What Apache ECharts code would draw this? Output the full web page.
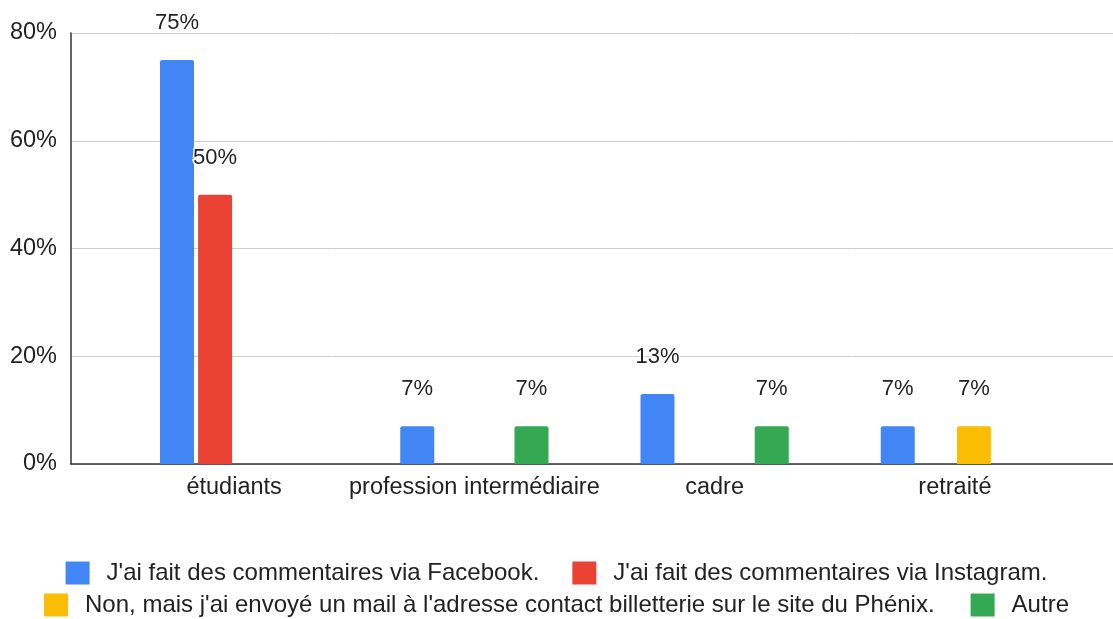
<!DOCTYPE html>
<html>
<head>
<meta charset="utf-8">
<script src="https://cdn.jsdelivr.net/npm/echarts@6/dist/echarts.min.js"></script>
<style>
  html, body { margin: 0; padding: 0; background: #fff; }
  #chart { width: 1113px; height: 619px; }
</style>
</head>
<body>
<div id="chart"></div>
<script>
// Categories (socio-professional groups)
const categories = ['étudiants', 'profession intermédiaire', 'cadre', 'retraité'];

// Series names
const seriesNames = [
  "J'ai fait des commentaires via Facebook.",
  "J'ai fait des commentaires via Instagram.",
  "Non, mais j'ai envoyé un mail à l'adresse contact billetterie sur le site du Phénix.",
  'Autre'
];

// Values in percent (null = no answer in that group)
const facebook  = [75, 7, 13, 7];
const instagram = [50, null, null, null];
const mail      = [null, null, null, 7];
const autre     = [null, 7, 7, null];

// Y axis ticks
const yTicks = [0, 20, 40, 60, 80];

const colors = ['#4285F4', '#EA4335', '#FBBC04', '#34A853'];
const seriesData = [facebook, instagram, mail, autre];

const textColor = '#222';
const font = 'Liberation Sans, Arial, Helvetica, sans-serif';

const chart = echarts.init(document.getElementById('chart'), null, { renderer: 'canvas' });

const series = seriesNames.map((name, i) => ({
  name: name,
  type: 'bar',
  xAxisIndex: 1,
  yAxisIndex: 1,
  data: seriesData[i],
  barWidth: 34,
  barGap: '12%',
  itemStyle: { color: colors[i], borderRadius: [2, 2, 0, 0] },
  label: {
    show: true,
    position: 'top',
    distance: 26,
    formatter: p => (p.value == null ? '' : p.value + '%'),
    color: textColor,
    fontFamily: font,
    fontSize: 22,
    textBorderColor: '#fff',
    textBorderWidth: 3
  }
}));

const legendText = { color: textColor, fontSize: 24, fontFamily: font, padding: [0, 0, 0, 12] };

chart.setOption({
  animation: false,
  color: colors,
  textStyle: { fontFamily: font },
  grid: [
    { left: 71, right: 0, top: 33, bottom: 155 },
    { left: 114, right: 38, top: 33, bottom: 155 }
  ],
  xAxis: [
    {
      gridIndex: 0,
      type: 'value',
      min: 0,
      max: 1,
      axisLine: { show: true, onZero: false, lineStyle: { color: '#333', width: 1.5 } },
      axisTick: { show: false },
      axisLabel: { show: false },
      splitLine: { show: false }
    },
    {
      gridIndex: 1,
      type: 'category',
      data: categories,
      axisLine: { show: false },
      axisTick: { show: false },
      axisLabel: { interval: 0, color: textColor, fontSize: 23.5, margin: 12, fontFamily: font }
    }
  ],
  yAxis: [
    {
      gridIndex: 0,
      type: 'value',
      min: yTicks[0],
      max: yTicks[yTicks.length - 1],
      interval: 20,
      axisLine: { show: true, lineStyle: { color: '#333', width: 1.5 } },
      axisTick: { show: false },
      axisLabel: { color: textColor, fontSize: 23.5, margin: 14, formatter: '{value}%', fontFamily: font },
      splitLine: { show: true, lineStyle: { color: '#ccc', width: 1 } }
    },
    {
      gridIndex: 1,
      type: 'value',
      min: yTicks[0],
      max: yTicks[yTicks.length - 1],
      show: false
    }
  ],
  legend: [
    {
      data: [seriesNames[0], seriesNames[1]],
      top: 561,
      left: 'center',
      padding: 0,
      itemWidth: 24,
      itemHeight: 23,
      itemGap: 33,
      icon: 'rect',
      textStyle: legendText
    },
    {
      data: [seriesNames[2], seriesNames[3]],
      top: 593,
      left: 'center',
      padding: 0,
      itemWidth: 24,
      itemHeight: 23,
      itemGap: 36,
      icon: 'rect',
      textStyle: legendText
    }
  ],
  series: series
});
</script>
</body>
</html>
